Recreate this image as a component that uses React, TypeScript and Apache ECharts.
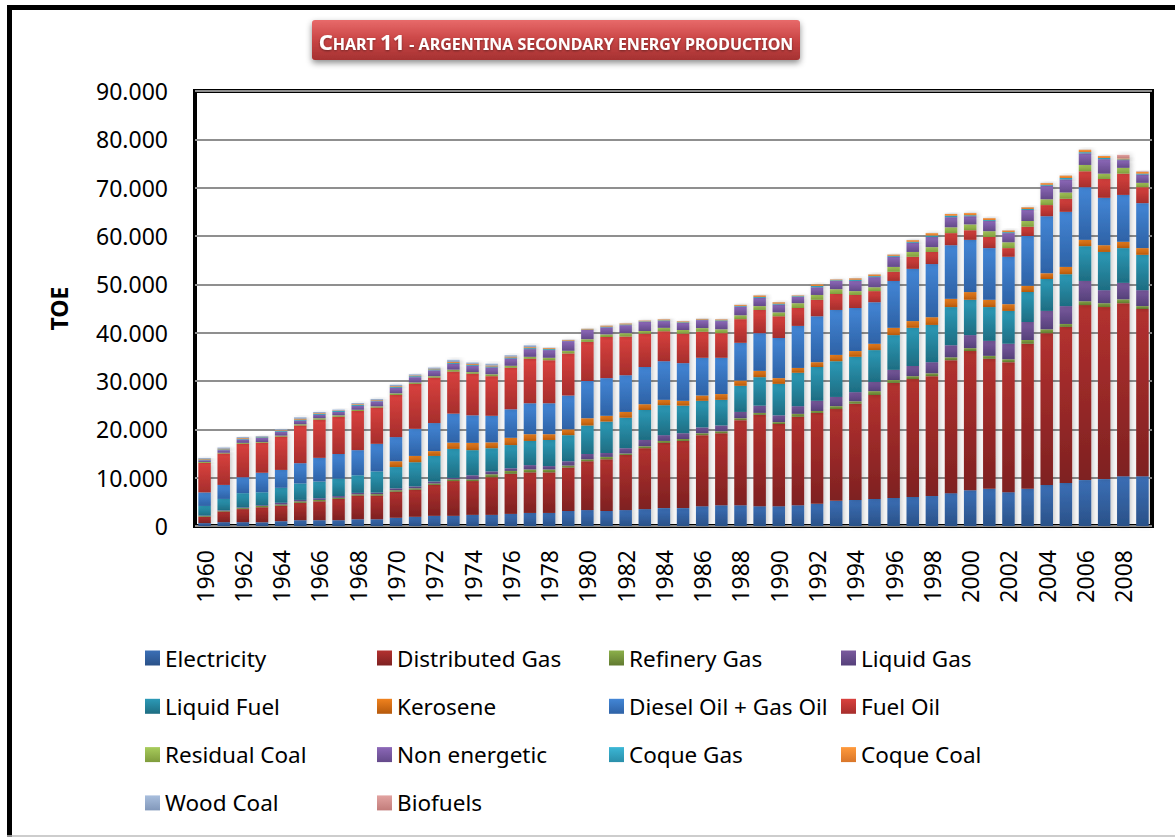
import React, { useEffect, useRef } from "react";
import * as echarts from "echarts";

const years = Array.from({ length: 50 }, (_, i) => String(1960 + i));

const electricity = [600, 800, 800, 800, 1000, 1200, 1200, 1200, 1400, 1400, 1700, 1900, 2100, 2100, 2300, 2300, 2500, 2700, 2700, 3100, 3300, 3100, 3300, 3500, 3700, 3700, 4100, 4300, 4300, 4100, 4100, 4300, 4600, 5200, 5400, 5600, 5800, 6000, 6200, 6800, 7400, 7700, 7000, 7700, 8500, 8900, 9500, 9700, 10300, 10300];
const distributedGas = [1300, 2200, 2700, 3100, 3200, 3600, 3900, 4400, 4900, 4900, 5400, 5600, 6400, 7200, 7000, 7800, 8300, 8400, 8400, 9000, 10100, 10700, 11400, 12600, 13500, 13900, 14700, 14900, 17600, 18900, 17000, 18300, 18800, 19000, 19900, 21500, 23800, 24400, 24800, 27500, 28800, 26900, 26900, 30000, 31400, 32300, 36200, 35600, 35800, 34600];
const refineryGas = [150, 150, 200, 250, 250, 300, 300, 250, 250, 300, 300, 300, 300, 350, 350, 600, 600, 600, 600, 400, 400, 500, 300, 400, 400, 400, 400, 400, 400, 400, 400, 600, 400, 600, 500, 800, 600, 600, 600, 600, 600, 600, 600, 800, 800, 600, 800, 800, 800, 600];
const liquidGas = [100, 100, 150, 150, 350, 300, 350, 350, 300, 300, 400, 400, 400, 300, 850, 600, 550, 900, 700, 900, 1100, 800, 1100, 1300, 1200, 1200, 1200, 1200, 1300, 1500, 1400, 1600, 2100, 1900, 1900, 1900, 2100, 2100, 2300, 2500, 2700, 3100, 3200, 3700, 3800, 3700, 4200, 2700, 3400, 3300];
const liquidFuel = [2000, 2350, 2950, 2700, 3100, 3400, 3450, 3600, 3650, 4400, 4400, 5000, 5300, 6000, 5200, 4800, 4800, 5000, 5400, 5400, 5900, 6500, 6300, 6200, 6200, 5700, 5500, 5300, 5400, 5900, 6500, 6900, 7000, 7400, 7300, 6600, 7200, 7900, 7700, 7900, 7300, 7000, 6800, 6200, 6600, 6600, 7200, 7900, 7200, 7300];
const kerosene = [0, 0, 0, 0, 0, 0, 0, 0, 0, 0, 1200, 1300, 1000, 1300, 1500, 1200, 1500, 1400, 1200, 1200, 1500, 1200, 1200, 1200, 1100, 1000, 1100, 1200, 1100, 1300, 1200, 1000, 1000, 1300, 1200, 1300, 1500, 1400, 1600, 1700, 1600, 1500, 1400, 1300, 1200, 1500, 1300, 1400, 1300, 1400];
const dieselOil = [2800, 2900, 3300, 4000, 3700, 4200, 4900, 5100, 5200, 5700, 5000, 5600, 5800, 6000, 5700, 5500, 5900, 6400, 6400, 7000, 7700, 7800, 7600, 7700, 8000, 7800, 7800, 7500, 7800, 7800, 8300, 8700, 9500, 9300, 8900, 8600, 9700, 10800, 11000, 11100, 10800, 10700, 9800, 10300, 11800, 11400, 10900, 9800, 9700, 9300];
const fuelOil = [6100, 6500, 6900, 6200, 6900, 7800, 7900, 7700, 8100, 7500, 8700, 9300, 9400, 8700, 8600, 8200, 8600, 9200, 8900, 8700, 8100, 8500, 8000, 6900, 6200, 6100, 5400, 5100, 4900, 4800, 4500, 3700, 3400, 3300, 2700, 2300, 1900, 2500, 2500, 2500, 2000, 2300, 1800, 1900, 2300, 2700, 3300, 3900, 4400, 3300];
const residualCoal = [200, 150, 200, 200, 200, 250, 300, 300, 250, 250, 350, 300, 300, 400, 350, 400, 400, 400, 500, 550, 550, 550, 700, 550, 700, 750, 750, 800, 800, 800, 800, 1000, 1000, 1000, 800, 800, 1000, 1000, 1000, 1200, 1200, 1200, 1200, 1200, 1200, 1300, 1300, 1100, 1200, 900];
const nonEnergetic = [350, 550, 700, 800, 800, 750, 700, 700, 800, 1050, 1150, 1100, 1200, 1200, 1300, 1400, 1500, 1600, 1600, 2000, 1900, 1450, 1650, 1900, 1400, 1450, 1650, 1700, 1800, 1700, 1600, 1300, 1600, 1700, 2100, 2100, 2100, 1900, 2100, 2100, 1700, 2100, 1900, 2300, 2800, 2700, 2400, 3000, 1600, 1700];
const coqueGas = [150, 150, 150, 150, 150, 200, 200, 200, 200, 150, 200, 200, 200, 200, 200, 200, 200, 200, 200, 100, 100, 150, 150, 100, 150, 150, 100, 150, 150, 200, 200, 150, 250, 150, 250, 200, 200, 200, 300, 300, 200, 200, 200, 200, 200, 300, 250, 250, 150, 200];
const coqueCoal = [150, 150, 150, 100, 150, 200, 150, 100, 150, 150, 150, 150, 150, 200, 200, 200, 200, 200, 200, 150, 150, 200, 200, 150, 200, 200, 150, 200, 200, 300, 300, 150, 350, 150, 300, 350, 250, 350, 500, 350, 450, 400, 350, 350, 350, 500, 500, 400, 200, 350];
const woodCoal = [200, 250, 200, 150, 200, 300, 250, 200, 250, 200, 300, 250, 250, 450, 300, 400, 300, 400, 100, 50, 50, 50, 50, 50, 50, 50, 50, 50, 50, 50, 50, 50, 50, 50, 50, 50, 50, 50, 50, 50, 50, 50, 50, 50, 50, 50, 50, 50, 50, 50];
const biofuels = [0, 0, 0, 0, 0, 0, 0, 0, 0, 0, 0, 0, 0, 0, 0, 0, 0, 0, 0, 0, 0, 0, 0, 0, 0, 0, 0, 0, 0, 0, 0, 0, 0, 0, 0, 0, 0, 0, 0, 0, 0, 0, 0, 0, 0, 0, 0, 0, 700, 100];

const seriesNames = [
  "Electricity", "Distributed Gas", "Refinery Gas", "Liquid Gas",
  "Liquid Fuel", "Kerosene", "Diesel Oil + Gas Oil", "Fuel Oil",
  "Residual Coal", "Non energetic", "Coque Gas", "Coque Coal",
  "Wood Coal", "Biofuels",
];
const seriesData = [
  electricity, distributedGas, refineryGas, liquidGas,
  liquidFuel, kerosene, dieselOil, fuelOil,
  residualCoal, nonEnergetic, coqueGas, coqueCoal,
  woodCoal, biofuels,
];
const seriesColors: [string, string][] = [
  ["#3B6FB6", "#2A5188"],
  ["#B3312F", "#7E2121"],
  ["#8CB04A", "#617A30"],
  ["#7A5A9E", "#55407A"],
  ["#2C9AB7", "#1E6D82"],
  ["#F0821E", "#B5590C"],
  ["#4386D6", "#2E62A6"],
  ["#D9413E", "#A62E2C"],
  ["#A8CC5C", "#7F9C3C"],
  ["#8C68B8", "#644A8A"],
  ["#3BB7D6", "#2A8FAA"],
  ["#FF9A3C", "#D9762A"],
  ["#A8BEDD", "#8298BA"],
  ["#E2A3A1", "#C27C7A"],
];

const yMax = 90000;
const yStep = 10000;

const FONT = "Noto Sans";

export default function App() {
  const ref = useRef<HTMLDivElement>(null);

  useEffect(() => {
    if (!ref.current) return;
    const chart = echarts.init(ref.current, undefined, { renderer: "svg" });

    const series = seriesNames.map((name, i) => ({
      name,
      type: "bar",
      stack: "total",
      barWidth: 12.5,
      data: seriesData[i],
      itemStyle: {
        color: new echarts.graphic.LinearGradient(0, 0, 0, 1, [
          { offset: 0, color: seriesColors[i][0] },
          { offset: 1, color: seriesColors[i][1] },
        ]),
        shadowColor: "rgba(0,0,0,0.22)",
        shadowBlur: 5,
        shadowOffsetX: 2,
      },
      emphasis: { disabled: true },
    }));

    const legendCols = [
      ["Electricity", "Liquid Fuel", "Residual Coal", "Wood Coal"],
      ["Distributed Gas", "Kerosene", "Non energetic", "Biofuels"],
      ["Refinery Gas", "Diesel Oil + Gas Oil", "Coque Gas"],
      ["Liquid Gas", "Fuel Oil", "Coque Coal"],
    ];
    const colX = [140, 372, 604, 836];

    const legends = legendCols.map((data, i) => ({
      orient: "vertical",
      left: colX[i],
      top: 641,
      itemWidth: 15,
      itemHeight: 15,
      itemGap: 24.3,
      icon: "rect",
      selectedMode: false,
      textStyle: { fontSize: 22.5, fontFamily: FONT, color: "#000", lineHeight: 24 },
      data,
    }));

    chart.setOption({
      animation: false,
      backgroundColor: "#fff",
      textStyle: { fontFamily: FONT },
      grid: {
        left: 195,
        top: 91,
        right: 23,
        bottom: 311,
        show: true,
        borderColor: "#000",
        borderWidth: 4,
        backgroundColor: "#fff",
      },
      legend: legends,
      xAxis: {
        type: "category",
        data: years,
        axisLine: { show: false },
        axisTick: { show: false },
        axisLabel: {
          interval: 1,
          rotate: 90,
          margin: 24,
          fontSize: 23,
          fontFamily: FONT,
          color: "#000",
        },
      },
      yAxis: {
        type: "value",
        min: 0,
        max: yMax,
        interval: yStep,
        name: "TOE",
        nameLocation: "middle",
        nameRotate: 90,
        nameGap: 125,
        nameTextStyle: { fontSize: 23, fontWeight: "bold", fontFamily: FONT, color: "#000" },
        axisLine: { show: false },
        axisTick: { show: false },
        splitLine: { lineStyle: { color: "#8f8f8f", width: 2 } },
        axisLabel: {
          margin: 27,
          fontSize: 23,
          fontFamily: FONT,
          color: "#000",
          formatter: (v: number) => (v === 0 ? "0" : String(v / 1000) + ".000"),
        },
      },
      graphic: [
        {
          type: "line",
          shape: { x1: 9.5, y1: 5, x2: 9.5, y2: 837 },
          style: { stroke: "#000", lineWidth: 5 },
          silent: true,
        },
        {
          type: "line",
          shape: { x1: 7, y1: 7.5, x2: 1175, y2: 7.5 },
          style: { stroke: "#000", lineWidth: 5 },
          silent: true,
        },
        {
          type: "line",
          shape: { x1: 7, y1: 836, x2: 1175, y2: 836 },
          style: { stroke: "#bdbdbd", lineWidth: 1.5 },
          silent: true,
        },
        {
          type: "rect",
          shape: { x: 312, y: 20, width: 488, height: 40, r: 3 },
          style: {
            fill: new echarts.graphic.LinearGradient(0, 0, 0, 1, [
              { offset: 0, color: "#E86A6A" },
              { offset: 0.5, color: "#C94545" },
              { offset: 1, color: "#A53232" },
            ]),
            shadowBlur: 6,
            shadowColor: "rgba(0,0,0,0.45)",
            shadowOffsetY: 3,
          },
          silent: true,
        },
        {
          type: "text",
          x: 556,
          y: 39,
          silent: true,
          style: {
            text: "{a|C}{b|HART }{a|11}{b| - ARGENTINA SECONDARY ENERGY PRODUCTION}",
            align: "center",
            verticalAlign: "middle",
            fill: "#fff",
            rich: {
              a: {
                fontSize: 22,
                fontWeight: "bold",
                fontFamily: FONT,
                color: "#fff",
                verticalAlign: "bottom",
                lineHeight: 26,
                textShadowColor: "rgba(0,0,0,0.4)",
                textShadowBlur: 2,
                textShadowOffsetY: 1,
              },
              b: {
                fontSize: 16,
                fontWeight: "bold",
                fontFamily: FONT,
                color: "#fff",
                verticalAlign: "bottom",
                lineHeight: 26,
                textShadowColor: "rgba(0,0,0,0.4)",
                textShadowBlur: 2,
                textShadowOffsetY: 1,
              },
            },
          },
        },
      ],
      series,
    });

    return () => chart.dispose();
  }, []);

  return (
    <div
      ref={ref}
      style={{ position: "fixed", left: 0, top: 0, width: 1175, height: 837, background: "#fff" }}
    />
  );
}
